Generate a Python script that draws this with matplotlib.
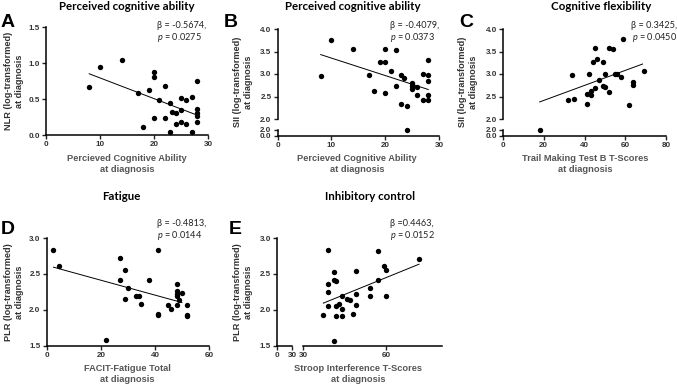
import numpy as np
import matplotlib
matplotlib.use("Agg")
import matplotlib.pyplot as plt

plt.rcParams['font.family'] = ['Liberation Sans', 'DejaVu Sans']
plt.rcParams['mathtext.fontset'] = 'custom'
plt.rcParams['mathtext.it'] = 'Lato:italic'
plt.rcParams['mathtext.rm'] = 'Lato'

# Datos
a_x = [8, 10, 14, 17, 18, 19, 20, 20, 20, 21, 22, 22, 23, 23, 23.4, 24, 24, 25, 25, 25,
       26, 26, 27, 27, 28, 28, 28, 28, 28]
a_y = [0.66, 0.95, 1.04, 0.59, 0.115, 0.63, 0.87, 0.80, 0.23, 0.485, 0.68, 0.235, 0.45, 0.04, 0.32,
       0.30, 0.15, 0.51, 0.345, 0.18, 0.49, 0.15, 0.53, 0.04, 0.75, 0.36, 0.31, 0.27, 0.18]

b_x = [8, 10, 14, 17, 18, 19, 20, 20, 20, 21, 22, 22, 23, 23.4, 23, 24, 24, 25, 25, 25,
       26, 26, 27, 27, 28, 28, 28, 28, 28]
b_y = [2.96, 3.76, 3.56, 2.98, 2.62, 3.26, 3.55, 3.26, 2.58, 3.06, 3.53, 2.74, 2.98, 2.92, 2.34,
       2.30, 1.95, 2.80, 2.73, 2.67, 2.70, 2.54, 3.01, 2.43, 3.32, 2.97, 2.85, 2.53, 2.42]

c_x = [18, 34, 32, 35, 41, 41, 42, 43, 43, 44, 45, 45, 46, 47, 49, 49, 50, 50, 52, 52,
       54, 55, 56, 58, 59, 62, 64, 64, 69]
c_y = [1.95, 2.97, 2.43, 2.44, 2.34, 2.55, 2.99, 2.53, 2.63, 3.26, 3.57, 2.69, 3.33, 2.86, 3.26, 2.74,
       3.01, 2.71, 2.60, 3.57, 3.55, 2.99, 2.99, 2.93, 3.77, 2.32, 2.82, 2.76, 3.07]

d_x = [2.2, 4.4, 22, 27, 27, 29, 29, 30, 33, 34, 35, 38, 41, 41, 41, 45, 46, 48, 48, 48,
       48, 48, 49, 50, 52, 52, 52]
d_y = [2.83, 2.61, 1.58, 2.72, 2.41, 2.55, 2.15, 2.31, 2.19, 2.19, 2.08, 2.41, 2.84, 1.95, 1.93, 2.07,
       2.02, 2.36, 2.26, 2.22, 2.19, 2.07, 2.14, 2.23, 2.07, 1.93, 1.91]

e_x = [37.1, 39, 39, 39, 39, 41, 41, 42, 41, 42, 42, 43, 44, 44, 44, 46, 47, 48, 49, 49,
       49, 54, 54, 57, 57, 59, 60, 60, 71.7]
e_y = [1.93, 2.84, 2.36, 2.25, 2.06, 2.53, 2.41, 2.40, 1.57, 2.06, 1.91, 2.08, 2.20, 2.02, 1.92, 2.15,
       2.14, 1.95, 2.54, 2.22, 2.07, 2.31, 2.19, 2.82, 2.41, 2.61, 2.55, 2.20, 2.71]

# x range over which each fitted line is drawn
a_fit = [8, 28]
b_fit = [8, 28]
c_fit = [18, 68.5]
d_fit = [2.5, 50]
e_fit = [37.3, 71.7]

W, H = 677, 386
fig = plt.figure(figsize=(W / 100, H / 100), dpi=100)

TICK_KW = dict(labelsize=5.8, width=1, length=3, colors='#222', pad=1.5)
DOT = 15


def px_axes(x0, x1, ytop, ybot):
    ax = fig.add_axes([x0 / W, 1 - ybot / H, (x1 - x0) / W, (ybot - ytop) / H])
    ax.patch.set_alpha(0)
    for s in ['top', 'right']:
        ax.spines[s].set_visible(False)
    for s in ['left', 'bottom']:
        ax.spines[s].set_linewidth(1.1)
    ax.tick_params(**TICK_KW)
    return ax


def bold_ticks(ax):
    for lab in ax.get_xticklabels() + ax.get_yticklabels():
        lab.set_fontweight('bold')
        lab.set_color('#333')


def fit_line(ax, x, y, rng):
    k, b = np.polyfit(x, y, 1)
    xx = np.array(rng)
    ax.plot(xx, k * xx + b, color='black', lw=0.7)


def dots_and_fit(ax, x, y, rng):
    ax.scatter(x, y, s=DOT, color='black', zorder=3, clip_on=False, linewidths=0)
    fit_line(ax, x, y, rng)


def title(xc, yc, txt):
    fig.text(xc / W, 1 - yc / H, txt, ha='center', va='center', fontsize=8.3,
             fontweight='bold', family='Lato')


def letter(x, ytop, txt):
    fig.text(x / W, 1 - ytop / H, txt, ha='left', va='top', fontsize=14, fontweight='bold')


def stats(x, y, l1, l2, ha='left'):
    fig.text(x / W, 1 - y / H, l1, ha=ha, va='center', fontsize=6.6, family='Lato', color='#222')
    fig.text(x / W, 1 - (y + 12) / H, l2, ha=ha, va='center', fontsize=6.6, family='Lato', color='#222')


def xlab(xc, yc, txt):
    fig.text(xc / W, 1 - yc / H, txt, ha='center', va='center', fontsize=6.7,
             fontweight='bold', color='#555', linespacing=1.25)


def ylab(xc, yc, txt):
    fig.text(xc / W, 1 - yc / H, txt, ha='center', va='center', fontsize=6.6, rotation=90,
             fontweight='bold', color='#333', linespacing=1.25)


# ---- A ----
ax = px_axes(46, 208, 27, 135)
ax.set_xlim(0, 30)
ax.set_ylim(0, 1.5)
ax.set_xticks([0, 10, 20, 30])
ax.set_yticks([0, 0.5, 1.0, 1.5])
ax.set_yticklabels(['0.0', '0.5', '1.0', '1.5'])
bold_ticks(ax)
dots_and_fit(ax, a_x, a_y, a_fit)
title(127, 6, 'Perceived cognitive ability')
letter(1, 14, 'A')
stats(157, 26, 'β = -0.5674,', '$\\it{p}$ = 0.0275')
xlab(127, 164, 'Percieved Cognitive Ability\nat diagnosis')
ylab(14, 81, 'NLR (log-transformed)\nat diagnosis')


# ---- broken y axes for B and C ----
def broken_y(x0, x1, xmax, xticks, xs, ys, rng):
    up = px_axes(x0, x1, 29, 119)
    up.set_xlim(0, xmax)
    up.set_ylim(2.0, 4.0)
    up.spines['bottom'].set_visible(False)
    up.set_xticks([])
    up.set_yticks([2.0, 2.5, 3.0, 3.5, 4.0])
    up.set_yticklabels(['2.0', '2.5', '3.0', '3.5', '4.0'])
    bold_ticks(up)
    lo = px_axes(x0, x1, 130, 136)
    lo.set_xlim(0, xmax)
    lo.set_ylim(0, 2.0)
    lo.set_xticks(xticks)
    lo.set_yticks([0, 2.0])
    lo.set_yticklabels(['0.0', '2.0'])
    bold_ticks(lo)
    xs = np.array(xs)
    ys = np.array(ys)
    hi = ys >= 2.0
    up.scatter(xs[hi], ys[hi], s=DOT, color='black', zorder=3, clip_on=False, linewidths=0)
    lo.scatter(xs[~hi], ys[~hi], s=DOT, color='black', zorder=3, clip_on=False, linewidths=0)
    fit_line(up, xs, ys, rng)
    return up, lo


broken_y(277.7, 439, 30, [0, 10, 20, 30], b_x, b_y, b_fit)
title(353, 6, 'Perceived cognitive ability')
letter(224, 14, 'B')
stats(390, 26, 'β = -0.4079,', '$\\it{p}$ = 0.0373')
xlab(357, 164, 'Percieved Cognitive Ability\nat diagnosis')
ylab(243, 82, 'SII (log-transformed)\nat diagnosis')

broken_y(503, 666, 80, [0, 20, 40, 60, 80], c_x, c_y, c_fit)
title(601, 6, 'Cognitive flexibility')
letter(459, 14, 'C')
stats(677, 26, 'β = 0.3425,', '$\\it{p}$ = 0.0450', ha='right')
xlab(585, 164, 'Trail Making Test B T-Scores\nat diagnosis')
ylab(468, 82, 'SII (log-transformed)\nat diagnosis')

# ---- D ----
ax = px_axes(46.7, 209, 238, 346)
ax.set_xlim(0, 60)
ax.set_ylim(1.5, 3.0)
ax.set_xticks([0, 20, 40, 60])
ax.set_yticks([1.5, 2.0, 2.5, 3.0])
ax.set_yticklabels(['1.5', '2.0', '2.5', '3.0'])
bold_ticks(ax)
dots_and_fit(ax, d_x, d_y, d_fit)
title(121, 197, 'Fatigue')
letter(1, 221, 'D')
stats(157, 223, 'β = -0.4813,', '$\\it{p}$ = 0.0144')
xlab(127, 374, 'FACIT-Fatigue Total\nat diagnosis')
ylab(14, 292, 'PLR (log-transformed)\nat diagnosis')

# ---- E (broken x axis) ----
el = px_axes(277, 292, 238, 346)
el.set_xlim(0, 30)
el.set_ylim(1.5, 3.0)
el.set_xticks([0, 30])
el.set_yticks([1.5, 2.0, 2.5, 3.0])
el.set_yticklabels(['1.5', '2.0', '2.5', '3.0'])
bold_ticks(el)
er = px_axes(303, 442, 238, 346)
er.set_xlim(30, 80)
er.set_ylim(1.5, 3.0)
er.spines['left'].set_visible(False)
er.set_yticks([])
er.set_xticks([30, 60])
bold_ticks(er)
for a in (el, er):
    a.set_xticks([30], minor=True)
    a.tick_params(axis='x', which='minor', direction='inout', length=6, width=1, colors='#222')
dots_and_fit(er, e_x, e_y, e_fit)
title(370, 197, 'Inhibitory control')
letter(229, 221, 'E')
stats(390, 223, 'β =0.4463,', '$\\it{p}$ = 0.0152')
xlab(358, 374, 'Stroop Interference T-Scores\nat diagnosis')
ylab(243, 292, 'PLR (log-transformed)\nat diagnosis')

fig.savefig('out.png', dpi=100)
